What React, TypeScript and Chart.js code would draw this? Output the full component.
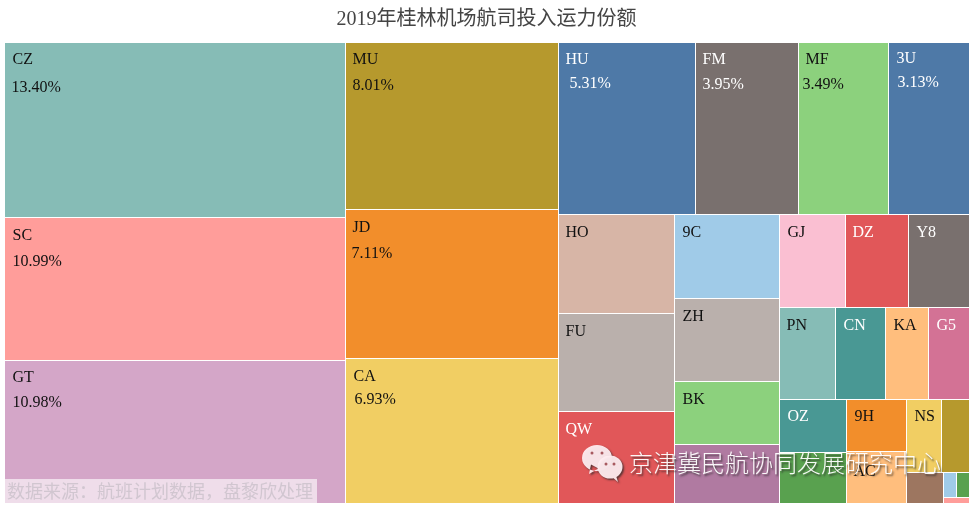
import React, { useEffect, useRef } from "react";
import { Chart, DatasetController, registerables } from "chart.js";

const titleText = "2019年桂林机场航司投入运力份额";
const sourceNote = "数据来源\uFF1A航班计划数据\uFF0C盘黎欣处理";
const brandNote = "京津冀民航协同发展研究中心";

// Blocks whose labels are hidden in the picture carry a placeholder key and are not labelled.
const carriers = ["CZ","SC","GT","MU","JD","CA","HU","FM","MF","3U","HO","FU","QW","9C","ZH","BK","x1","GJ","DZ","Y8","PN","CN","KA","G5","OZ","x2","9H","AC","NS","x3","x4","x5","x6","x7"];
const shares = [13.40,10.99,10.98,8.01,7.11,6.93,5.31,3.95,3.49,3.13,2.58,2.56,2.40,1.98,1.96,1.49,1.39,1.38,1.32,1.27,1.15,1.03,0.88,0.85,0.80,0.77,0.71,0.69,0.58,0.47,0.26,0.075,0.07,0.036];
const fills = ["#86BCB6","#FF9D9A","#D4A6C8","#B6992D","#F28E2B","#F1CE63","#4E79A7","#79706E","#8CD17D","#4E79A7","#D7B5A6","#BAB0AC","#E15759","#A0CBE8","#BAB0AC","#8CD17D","#B07AA1","#FABFD2","#E15759","#79706E","#86BCB6","#499894","#FFBE7D","#D37295","#499894","#59A14F","#F28E2B","#FFBE7D","#F1CE63","#B6992D","#9D7660","#A0CBE8","#59A14F","#FF9D9A"];
const whiteText = ["HU","FM","3U","QW","DZ","Y8","CN","G5","OZ"];
const percentShown = ["CZ","SC","GT","MU","JD","CA","HU","FM","MF","3U"];

// Nesting of the treemap: "h" lays children side by side, "v" stacks them.
const tree: any = ["h",
  ["v","CZ","SC","GT"],
  ["v","MU","JD","CA"],
  ["v",
    ["h","HU","FM","MF","3U"],
    ["h",
      ["v","HO","FU","QW"],
      ["v","9C","ZH","BK","x1"],
      ["v",
        ["h","GJ","DZ","Y8"],
        ["h","PN","CN","KA","G5"],
        ["h",
          ["v","OZ","x2"],
          ["v","9H","AC"],
          ["v",
            ["h","NS","x3"],
            ["h","x4",["v",["h","x5","x6"],"x7"]],
          ],
        ],
      ],
    ],
  ],
];

// Label offsets from a block's top-left corner: [name dx, name dy, percent dx, percent dy]
const labelOffsets: Record<string, number[]> = {
  CZ:[8,17,7,45], SC:[8,18,8,44], GT:[8,17,8,42], MU:[7,17,7,43], JD:[7,18,6,44], CA:[8,18,9,41],
  HU:[7,17,11,41], FM:[7,17,7,42], MF:[7,17,4,42], "3U":[8,16,9,40],
  HO:[7,18], FU:[7,18], QW:[7,18], "9C":[8,18], ZH:[8,18], BK:[8,18],
  GJ:[8,18], DZ:[7,18], Y8:[8,18], PN:[7,18], CN:[8,18], KA:[8,18], G5:[8,18],
  OZ:[8,17], "9H":[8,17], AC:[7,20], NS:[8,17],
};

const FONT = "'Liberation Serif','Noto Sans CJK SC',serif";

function weight(node: any): number {
  if (typeof node === "string") return shares[carriers.indexOf(node)];
  return node.slice(1).reduce((s: number, c: any) => s + weight(c), 0);
}

function place(node: any, x0: number, y0: number, x1: number, y1: number, out: Record<string, number[]>) {
  if (typeof node === "string") { out[node] = [x0, y0, x1, y1]; return; }
  const total = weight(node);
  let pos = node[0] === "h" ? x0 : y0;
  for (const child of node.slice(1)) {
    const span = (weight(child) / total) * (node[0] === "h" ? x1 - x0 : y1 - y0);
    if (node[0] === "h") place(child, pos, y0, pos + span, y1, out);
    else place(child, x0, pos, x1, pos + span, out);
    pos += span;
  }
}

// Half-pixel edges make the 1px white gap between blocks land exactly on a pixel column or row.
const crisp = (v: number) => Math.round(v) + 0.5;

class TreemapController extends (DatasetController as any) {
  static id = "treemap";
  static defaults = { datasetElementType: false, dataElementType: "bar" };
  parse() {}
  update() {
    const meta = (this as any)._cachedMeta;
    const ds = (this as any).getDataset();
    const rects: Record<string, number[]> = {};
    place(ds.tree, 0, 0, 100, 100, rects);
    const xs = meta.xScale, ys = meta.yScale;
    meta.data.forEach((el: any, i: number) => {
      const r = rects[carriers[i]];
      const l = crisp(xs.getPixelForValue(r[0])), rt = crisp(xs.getPixelForValue(r[2]));
      Object.assign(el, {
        x: (l + rt) / 2, width: rt - l,
        y: crisp(ys.getPixelForValue(r[1])), base: crisp(ys.getPixelForValue(r[3])),
        horizontal: false, inflateAmount: 0, borderSkipped: false, enableBorderRadius: false,
        options: { backgroundColor: ds.backgroundColor[i], borderColor: "#fff", borderWidth: 0.5, borderRadius: 0 },
      });
    });
  }
}

const labelPlugin = {
  id: "treemapLabels",
  afterDatasetsDraw(chart: any) {
    const ctx = chart.ctx;
    const els = chart.getDatasetMeta(0).data;
    ctx.save();
    ctx.font = `16px ${FONT}`;
    ctx.textBaseline = "middle";
    ctx.textAlign = "left";
    els.forEach((el: any, i: number) => {
      const name = carriers[i];
      const off = labelOffsets[name];
      if (!off) return;
      const left = el.x - el.width / 2, top = el.y;
      ctx.fillStyle = whiteText.includes(name) ? "#fff" : "#111";
      ctx.fillText(name, left + off[0], top + off[1]);
      if (percentShown.includes(name)) ctx.fillText(shares[i].toFixed(2) + "%", left + off[2], top + off[3]);
    });
    ctx.restore();
  },
};

const watermarkPlugin = {
  id: "watermarks",
  afterDraw(chart: any) {
    const ctx = chart.ctx;
    const { left, bottom } = chart.chartArea;
    ctx.save();
    // source note
    ctx.fillStyle = "rgba(255,255,255,0.62)";
    ctx.fillRect(left + 1, bottom - 24, 312, 24);
    ctx.fillStyle = "rgba(205,195,205,0.9)";
    ctx.font = "18px 'Noto Sans CJK SC'";
    ctx.textBaseline = "middle";
    ctx.textAlign = "left";
    ctx.fillText(sourceNote, left + 3, bottom - 12);
    // brand note
    ctx.shadowColor = "rgba(40,40,40,0.75)";
    ctx.shadowOffsetX = 1.5;
    ctx.shadowOffsetY = 1.5;
    ctx.shadowBlur = 2;
    ctx.fillStyle = "rgba(255,255,255,0.95)";
    ctx.font = "300 24px 'Noto Sans CJK SC'";
    ctx.fillText(brandNote, 629, 463);
    // chat-bubble mark
    const bubble = (cx: number, cy: number, rx: number, ry: number, tx: number, ty: number) => {
      ctx.fillStyle = "rgba(255,236,240,0.95)";
      ctx.beginPath();
      ctx.ellipse(cx, cy, rx, ry, 0, 0, Math.PI * 2);
      ctx.moveTo(cx - rx * 0.4 * Math.sign(cx - tx || 1), cy + ry * 0.5);
      ctx.lineTo(tx, ty);
      ctx.lineTo(cx + rx * 0.1, cy + ry * 0.8);
      ctx.fill();
    };
    bubble(597, 458, 15, 13, 589, 474);
    bubble(610, 467, 12.5, 11.5, 618, 482);
    ctx.shadowColor = "transparent";
    ctx.fillStyle = "#a85a60";
    for (const [dx, dy] of [[592, 453], [602, 453], [606, 464], [614, 464]]) {
      ctx.beginPath();
      ctx.arc(dx, dy, 1.5, 0, Math.PI * 2);
      ctx.fill();
    }
    ctx.restore();
  },
};

Chart.register(...registerables, TreemapController as any);

export default function App() {
  const ref = useRef<HTMLCanvasElement>(null);
  useEffect(() => {
    document.body.style.margin = "0";
    const chart = new Chart(ref.current as any, {
      type: "treemap" as any,
      data: {
        labels: carriers,
        datasets: [{ label: titleText, data: shares, tree, backgroundColor: fills } as any],
      },
      plugins: [labelPlugin, watermarkPlugin],
      options: {
        responsive: false,
        animation: false,
        devicePixelRatio: 1,
        events: [],
        layout: { padding: { left: 4, right: 3, bottom: 4, top: 0 } },
        scales: {
          x: { type: "linear", min: 0, max: 100, display: false },
          y: { type: "linear", min: 0, max: 100, reverse: true, display: false },
        },
        plugins: {
          legend: { display: false },
          tooltip: { enabled: false },
          title: {
            display: true,
            text: titleText,
            color: "#444",
            font: { family: FONT, size: 20, weight: "normal" as any, lineHeight: 1.2 },
            padding: { top: 8, bottom: 10 },
          },
        },
      } as any,
    });
    return () => chart.destroy();
  }, []);
  return <canvas ref={ref} width={972} height={507} style={{ display: "block" }} />;
}
